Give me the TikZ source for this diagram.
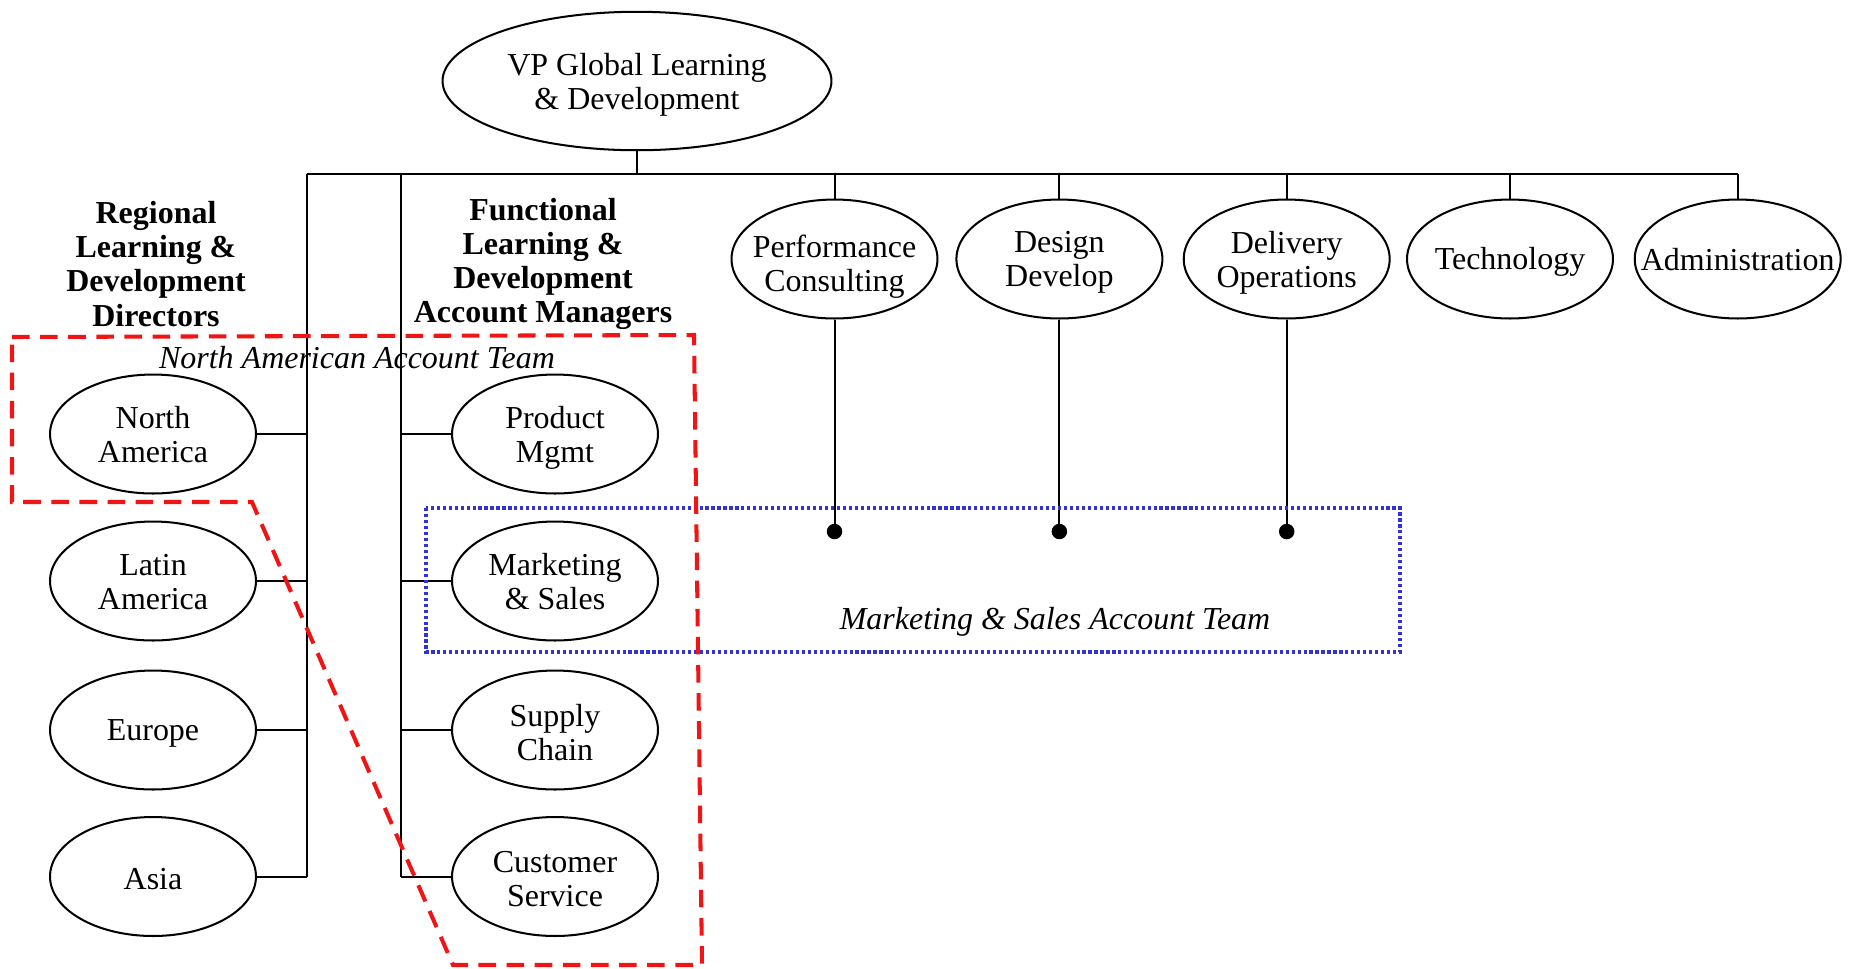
\documentclass[tikz,border=0pt]{standalone}
\usepackage{fontspec}
\setmainfont{Liberation Serif}
\usetikzlibrary{shapes.geometric}
\definecolor{teamred}{RGB}{240,20,20}
\definecolor{teamblue}{RGB}{50,50,215}
\begin{document}
\begin{tikzpicture}[x=0.02cm,y=-0.02cm,
  every node/.style={font=\fontsize{18.2}{19.4}\selectfont},
  % an ellipse of fixed size; #1 is its text, #2 a small downward shift of that text
  unit/.style 2 args={ellipse,draw,line width=1.15pt,minimum width=4.12cm,minimum height=2.38cm,inner sep=0pt,
    label={[align=center,font=\fontsize{18.2}{19.4}\selectfont,yshift=-#2]center:#1}},
  heading/.style={align=center,font=\fontsize{18.2}{19.4}\selectfont\bfseries},
  link/.style={line width=1.15pt},
  teamlabel/.style={font=\fontsize{18.2}{19.4}\selectfont\itshape},
  junction/.style={circle,fill=black,inner sep=0pt,minimum size=0.31cm}]
\useasboundingbox (0,0) rectangle (1856,968);

% top of the chart
\node[unit={VP Global Learning\\\& Development}{0.07cm},minimum width=7.78cm,minimum height=2.77cm] (vp) at (637,81) {};

% bus coordinates
\coordinate (busL) at (306.6,174);
\coordinate (busF) at (401.3,174);
\coordinate (busR) at (1737.7,174);

% functional departments
\node[unit={Performance\\Consulting}{0.15cm}] (pc) at (834.5,259) {};
\node[unit={Design\\Develop}{0.07cm}] (dd) at (1059.4,259) {};
\node[unit={Delivery\\Operations}{0.07cm}] (do) at (1286.7,259) {};
\node[unit={Technology}{0.05cm}] (te) at (1510,259) {};
\node[unit={Administration}{0.02cm}] (ad) at (1737.7,259) {};

% regional directors
\node[heading] (hreg) at (156,264) {Regional\\Learning \&\\Development\\Directors};
\node[unit={North\\America}{0.02cm}] (na) at (153,434) {};
\node[unit={Latin\\America}{0.03cm}] (la) at (153,581) {};
\node[unit={Europe}{0.07cm}] (eu) at (153,730) {};
\node[unit={Asia}{0.05cm}] (as) at (153,876.5) {};

% functional account managers
\node[heading] (hfun) at (543,264) {Functional\\Learning \&\\Development\\Account Managers};
\node[unit={Product\\Mgmt}{0.07cm}] (pm) at (555,434) {};
\node[unit={Marketing\\\& Sales}{0.02cm}] (ms) at (555,581) {};
\node[unit={Supply\\Chain}{0.05cm}] (sc) at (555,730) {};
\node[unit={Customer\\Service}{0.05cm}] (cs) at (555,876.5) {};

% reporting lines
\draw[link] (busL) -- (busR);
\draw[link] (vp.south) -- (vp.south |- busL);
\foreach \n in {pc,dd,do,te,ad} \draw[link] (\n.north |- busL) -- (\n.north);
\draw[link] (busL) -- (busL |- as);
\draw[link] (busF) -- (busF |- cs);
\foreach \n in {na,la,eu,as} \draw[link] (\n.east) -- (\n.east -| busL);
\foreach \n in {pm,ms,sc,cs} \draw[link] (\n.west) -- (\n.west -| busF);

% links into the marketing & sales team
\node[junction] (jpc) at (834.5,531.5) {};
\node[junction] (jdd) at (1059.4,531.5) {};
\node[junction] (jdo) at (1286.7,531.5) {};
\draw[link] (pc.south) -- (jpc.center);
\draw[link] (dd.south) -- (jdd.center);
\draw[link] (do.south) -- (jdo.center);

% account team outlines
\draw[teamblue,line width=1.8pt,dash pattern=on 1.8pt off 1.6pt] (426,508) rectangle (1400,652);
\node[teamlabel] (mst) at (1055,622) {Marketing \& Sales Account Team};

\draw[teamred,line width=2.3pt,dash pattern=on 10pt off 6pt]
  (12,337) -- (694,335) -- (702,965) -- (453,965) -- (252,502) -- (12,502) -- cycle;
\node[teamlabel] (nat) at (357,358) {North American Account Team};
\end{tikzpicture}
\end{document}
